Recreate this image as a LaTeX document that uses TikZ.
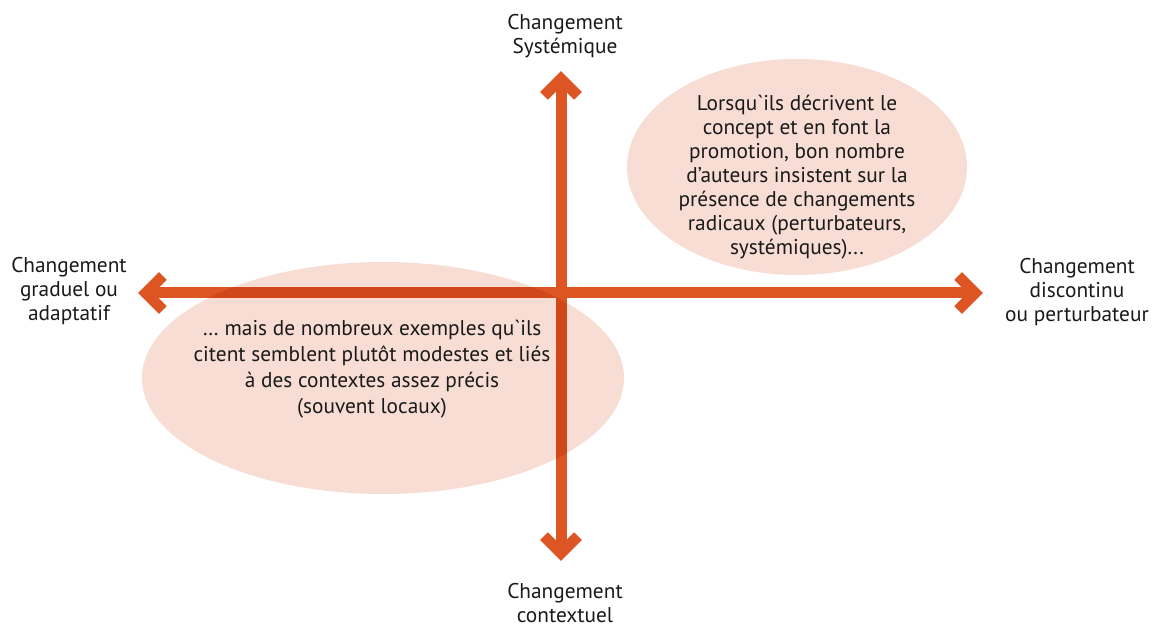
\documentclass[tikz,border=0pt]{standalone}
\usepackage{fontspec}
\setmainfont{PT Sans}
\newfontfamily\gravefont{PT Sans}[Ligatures=TeXOff]
\newcommand\gv{{\gravefont`}}
\definecolor{axisorange}{HTML}{DC5523}
\definecolor{axisdark}{HTML}{D04819}
\definecolor{bubblefill}{HTML}{F7DDD3}
\definecolor{textblack}{HTML}{1A1A1A}
\tikzset{
  axis/.style={draw=axisorange, line width=8.25pt, line cap=butt, line join=miter},
  bubble/.style={fill=bubblefill},
  lbl/.style={font=\fontsize{16}{18}\selectfont, align=center, inner sep=0pt, text=textblack},
}
\newcommand\axischev[3][axisorange]{%
  \draw[axis, draw=#1, shift={(#2)}, rotate=#3] (-24.8,17) -- (-7.8,0) -- (-24.8,-17);}
\begin{document}
\begin{tikzpicture}[x=0.75pt,y=-0.75pt]
\useasboundingbox (0,0) rectangle (1160,627);
% bubbles
\fill[bubble] (797,167) ellipse [x radius=170, y radius=108];
\fill[bubble] (383,378) ellipse [x radius=241, y radius=116];
% axis end points
\coordinate (W) at (138,293);
\coordinate (E) at (983,293);
\coordinate (N) at (561,71);
\coordinate (S) at (561,561);
% axes
\draw[axis] ([xshift=5.85pt]W) -- ([xshift=-5.85pt]E);
\draw[axis] ([yshift=-5.85pt]N) -- ([yshift=5.85pt]S);
\axischev{W}{180}
\axischev{E}{0}
\axischev{N}{90}
\axischev{S}{-90}
% darker part under the lower bubble
\begin{scope}
  \clip (383,378) ellipse [x radius=241, y radius=116];
  \draw[axis, draw=axisdark] ([xshift=5.85pt]W) -- ([xshift=-5.85pt]E);
  \draw[axis, draw=axisdark] ([yshift=-5.85pt]N) -- ([yshift=5.85pt]S);
\end{scope}
% labels
\node[lbl] (top) at (565,36) {Changement\\Systémique};
\node[lbl] (bottom) at (565,603) {Changement\\contextuel};
\node[lbl] (left) at (69,291) {Changement\\graduel ou\\adaptatif};
\node[lbl] (right) at (1077,292) {Changement\\discontinu\\ou perturbateur};
\node[lbl] (ur) at (797,177) {Lorsqu\gv ils décrivent le\\concept et en font la\\promotion, bon nombre\\d’auteurs insistent sur la\\présence de changements\\radicaux (perturbateurs,\\systémiques)...};
\node[lbl, font=\fontsize{16}{19.5}\selectfont] (ll) at (372,369) {… mais de nombreux exemples qu\gv ils\\citent semblent plutôt modestes et liés\\à des contextes assez précis\\(souvent locaux)};
\end{tikzpicture}
\end{document}
